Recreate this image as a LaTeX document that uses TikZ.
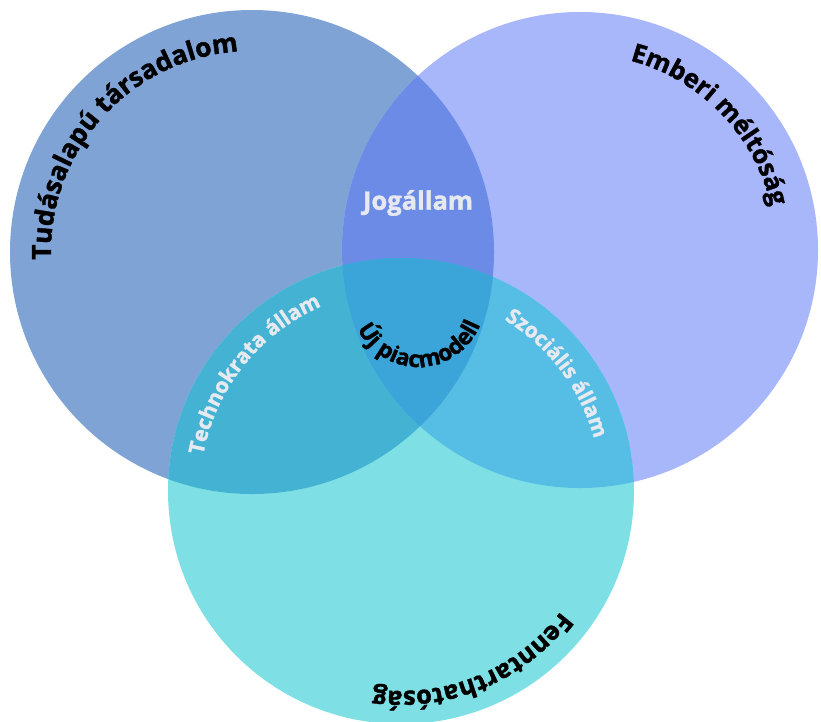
\documentclass[tikz,border=0pt]{standalone}
\usepackage{fontspec}
\setmainfont{Open Sans}[BoldFeatures={FakeBold=1.5}]
\usetikzlibrary{decorations.text}
\definecolor{leftblue}{HTML}{7FA3D5}
\definecolor{rightblue}{HTML}{A8B6FA}
\definecolor{bottomcyan}{HTML}{7EE0E5}
\definecolor{lrblue}{HTML}{6B8BE7}
\definecolor{lbcyan}{HTML}{44B3D3}
\definecolor{rbcyan}{HTML}{56BDE5}
\definecolor{midblue}{HTML}{3BA5DA}
\definecolor{labelwhite}{HTML}{E6EAF0}
\tikzset{
  arclabel/.style={decorate, decoration={text along path, text align=center, text={#1}}}
}
\begin{document}
\begin{tikzpicture}[x=0.02cm, y=0.02cm]
\useasboundingbox (0,0) rectangle (821,-721);

%CIRCLES
\pgfmathsetmacro{\rl}{242}
\pgfmathsetmacro{\rr}{238}
\pgfmathsetmacro{\rb}{233}
\coordinate (L) at (252,-252);
\coordinate (R) at (580,-250);
\coordinate (B) at (401,-491);
\coordinate (M) at (418,-300);
  \fill[leftblue] (L) circle (\rl);
  \fill[rightblue] (R) circle (\rr);
  \fill[bottomcyan] (B) circle (\rb);
\begin{scope}
  \clip (R) circle (\rr);
  \fill[rbcyan] (B) circle (\rb);
\end{scope}
\begin{scope}
  \clip (L) circle (\rl);
  \fill[lrblue] (R) circle (\rr);
  \fill[lbcyan] (B) circle (\rb);
  \clip (R) circle (\rr);
  \fill[midblue] (B) circle (\rb);
\end{scope}

%OUTER LABELS
  \path[arclabel={|\fontsize{15}{17}\selectfont\bfseries|Tudásalapú társadalom}]
    (L) ++(198:201) arc[start angle=198, end angle=78, radius=201];
  \path[arclabel={|\fontsize{14.5}{17}\selectfont\bfseries|Emberi méltóság}]
    (R) ++(94:196) arc[start angle=94, end angle=-6, radius=196];
  \path[arclabel={|\fontsize{14.5}{17}\selectfont\bfseries|Fenntarthatóság}]
    (B) ++(-17.5:200) arc[start angle=-17.5, end angle=-117.5, radius=200];

%INNER LABELS
  \path[arclabel={|\fontsize{12}{14}\selectfont\bfseries\color{labelwhite}|Technokrata állam}]
    (B) ++(186.5:201) arc[start angle=186.5, end angle=96.5, radius=201];
  \path[arclabel={|\fontsize{12}{14}\selectfont\bfseries\color{labelwhite}|Szociális állam}]
    (B) ++(77:200) arc[start angle=77, end angle=-3, radius=200];
  \path[arclabel={|\fontsize{13}{15}\selectfont\bfseries|Új piacmodell}]
    (M) ++(190:67) arc[start angle=190, end angle=354, radius=67];
  \node (jog) at (418,-203) [text=labelwhite, font=\fontsize{14.5}{16}\selectfont\bfseries] {Jogállam};
\end{tikzpicture}
\end{document}
